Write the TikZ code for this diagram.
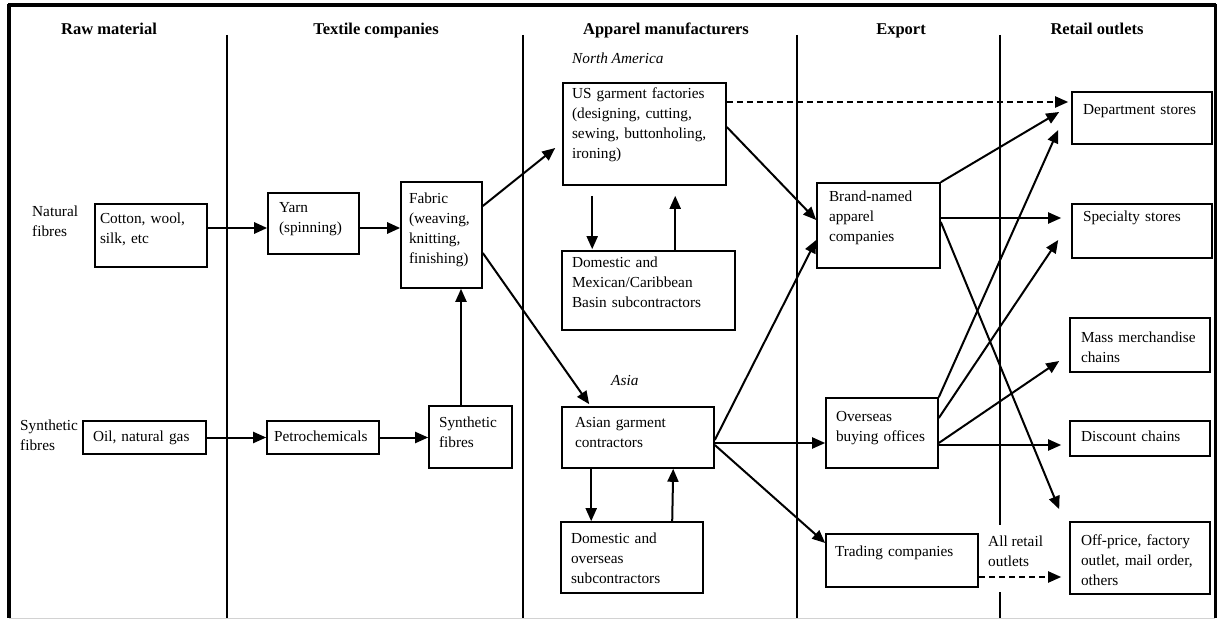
\documentclass[tikz,border=0pt]{standalone}
\usepackage{fontspec}
\setmainfont{Liberation Serif}
\usetikzlibrary{arrows.meta,calc}

\newcommand\bxfont{\fontsize{15.3}{20}\selectfont\hyphenpenalty=10000\exhyphenpenalty=10000\relax}
\newcommand\hdfont{\fontsize{16.5}{20}\selectfont\bfseries}

\begin{document}
\begin{tikzpicture}[x=1pt,y=-1pt,
  bx/.style={draw,line width=1.6pt,rectangle,align=left,inner xsep=0pt,inner ysep=2pt,
             text height=11pt,font=\bxfont},
  hd/.style={anchor=base,font=\hdfont,inner sep=0pt},
  lbl/.style={anchor=north west,align=left,font=\bxfont,inner sep=0pt},
  region/.style={anchor=north west,font=\bxfont\itshape,inner sep=0pt},
  divider/.style={line width=1.7pt},
  arr/.style={line width=2pt,-{Triangle[length=13pt,width=11pt]}},
  darr/.style={arr,dash pattern=on 6pt off 4pt},
]
\useasboundingbox (0,0) rectangle (1223,620);

% outer frame
\draw[line width=3.2pt] (8,5) -- (1216,5);
\draw[line width=3.2pt] (9,4) -- (9,618);
\draw[line width=3pt] (1215,4) -- (1215,618);
\draw[line width=1pt,gray!35] (9,618) -- (1215,618);

% column dividers
\draw[divider] (227,35) -- (227,618);
\draw[divider] (523,35) -- (523,618);
\draw[divider] (797,35) -- (797,618);
\draw[divider] (1000,35) -- (1000,525);
\draw[divider] (1000,592) -- (1000,618);

% column headings
\node[hd] (h1) at (109,35) {Raw material};
\node[hd] (h2) at (376,35) {Textile companies};
\node[hd] (h3) at (666,35) {Apparel manufacturers};
\node[hd] (h4) at (901,35) {Export};
\node[hd] (h5) at (1097,35) {Retail outlets};

% row and region labels
\node[lbl] (natl) at (32,206) {Natural\\fibres};
\node[lbl] (synl) at (20,420) {Synthetic\\fibres};
\node[region] (nam) at (572,53) {North America};
\node[region] (asia) at (611,375) {Asia};
\node[lbl] (allr) at (988,536) {All retail\\outlets};

% raw material and textile stages
\node[bx,minimum width=112,minimum height=63,text width=102,text depth=35pt] (cot) at (151,235.5) {Cotton, wool,\\silk, etc};
\node[bx,minimum width=91,minimum height=61,text width=69,text depth=33pt] (yarn) at (313.5,223.5) {Yarn\\(spinning)};
\node[bx,minimum width=81,minimum height=106,text width=65,text depth=74pt] (fab) at (441.5,235) {Fabric\\(weaving,\\knitting,\\finishing)};
\node[bx,minimum width=123,minimum height=33,text width=103,text depth=3pt] (oil) at (144.5,437.5) {Oil, natural gas};
\node[bx,minimum width=112,minimum height=33,text width=98,text depth=3pt] (pet) at (323,437.5) {Petrochemicals};
\node[bx,minimum width=83,minimum height=62,text width=63,text depth=30pt] (syn) at (470.5,437) {Synthetic\\fibres};

% apparel manufacturers
\node[bx,minimum width=163,minimum height=102,text width=145,text depth=82pt] (us) at (644.5,134) {US garment factories\\(designing, cutting,\\sewing, buttonholing,\\ironing)};
\node[bx,minimum width=173,minimum height=79,text width=153,text depth=57pt] (dmx) at (648.5,290.5) {Domestic and\\Mexican/Caribbean\\Basin subcontractors};
\node[bx,minimum width=152,minimum height=61,text width=126,text depth=31pt] (asg) at (638,437.5) {Asian garment\\contractors};
\node[bx,minimum width=142,minimum height=71,text width=122,text depth=39pt] (dov) at (632,557.5) {Domestic and\\overseas\\subcontractors};

% export
\node[bx,minimum width=123,minimum height=85,text width=99,text depth=59pt] (brand) at (878.5,225.5) {Brand-named\\apparel\\companies};
\node[bx,minimum width=112,minimum height=70,text width=92,text depth=34pt] (ovs) at (882,433) {Overseas\\buying offices};
\node[bx,minimum width=152,minimum height=53,text width=134,text depth=19pt] (trd) at (902,560.5) {Trading companies};

% retail outlets
\node[bx,minimum width=140,minimum height=52,text width=118,text depth=18pt] (dept) at (1142,118) {Department stores};
\node[bx,minimum width=140,minimum height=54,text width=118,text depth=30pt] (spec) at (1142,231) {Specialty stores};
\node[bx,minimum width=140,minimum height=54,text width=118,text depth=16pt] (mass) at (1140,345) {Mass merchandise\\chains};
\node[bx,minimum width=140,minimum height=35,text width=118,text depth=5pt] (disc) at (1140,438.5) {Discount chains};
\node[bx,minimum width=140,minimum height=72,text width=118,text depth=36pt] (off) at (1140,558) {Off-price, factory\\outlet, mail order,\\others};

% flows through the textile stages
\draw[arr,line width=2.6pt] ($(cot.east)+(0,-7.5)$) -- ($(yarn.west)+(0,4.5)$);
\draw[arr,line width=2.6pt] ($(yarn.east)+(0,4.5)$) -- ($(fab.west)+(0,-7)$);
\draw[arr] (oil.east) -- (pet.west);
\draw[arr] (pet.east) -- ($(syn.west)+(0,0.5)$);
\draw[arr] ($(syn.north)+(-9.5,0)$) -- ($(fab.south)+(19.5,0)$);
\draw[arr] ($(fab.east)+(0,-29)$) -- ($(us.west)+(-7,14)$);
\draw[arr] ($(fab.east)+(0,18)$) -- ($(asg.north west)+(28,-2)$);

% subcontracting loops
\draw[arr] ($(us.south west)+(30,10)$) -- ($(dmx.north west)+(31,-1)$);
\draw[arr] ($(dmx.north west)+(114,0)$) -- ($(us.south west)+(113,10)$);
\draw[arr] ($(asg.south west)+(30,0)$) -- ($(dov.north west)+(31,0)$);
\draw[arr] ($(dov.north west)+(112,0)$) -- ($(asg.south west)+(112,0)$);

% manufacturers to export channels
\draw[darr] ($(us.east)+(0,-32)$) -- ($(dept.west)+(-3,-16)$);
\draw[arr] ($(us.east)+(0,-7)$) -- ($(brand.west)+(0,-5.5)$);
\draw[arr] ($(asg.east)+(0,2.5)$) -- ($(brand.west)+(0,14.5)$);
\draw[arr] ($(asg.east)+(0,5.5)$) -- ($(ovs.west)+(0,10)$);
\draw[arr] ($(asg.east)+(0,7.5)$) -- ($(trd.west)+(0,-17.5)$);

% export channels to retail outlets
\draw[arr] (brand.north east) -- ($(dept.west)+(-12,-6)$);
\draw[arr] ($(brand.east)+(0,-7.5)$) -- ($(spec.west)+(-10,-13)$);
\draw[arr] ($(brand.east)+(0,-3.5)$) -- ($(off.north west)+(-10,-12)$);
\draw[arr] (ovs.north east) -- ($(dept.west)+(-13,12)$);
\draw[arr] ($(ovs.east)+(0,-15)$) -- ($(spec.west)+(-13,9)$);
\draw[arr] ($(ovs.east)+(0,10)$) -- ($(mass.west)+(-10,16)$);
\draw[arr] ($(ovs.east)+(0,12)$) -- ($(disc.west)+(-8,6.5)$);
\draw[darr] ($(trd.east)+(0,16.5)$) -- ($(off.west)+(-8,19)$);
\end{tikzpicture}
\end{document}
